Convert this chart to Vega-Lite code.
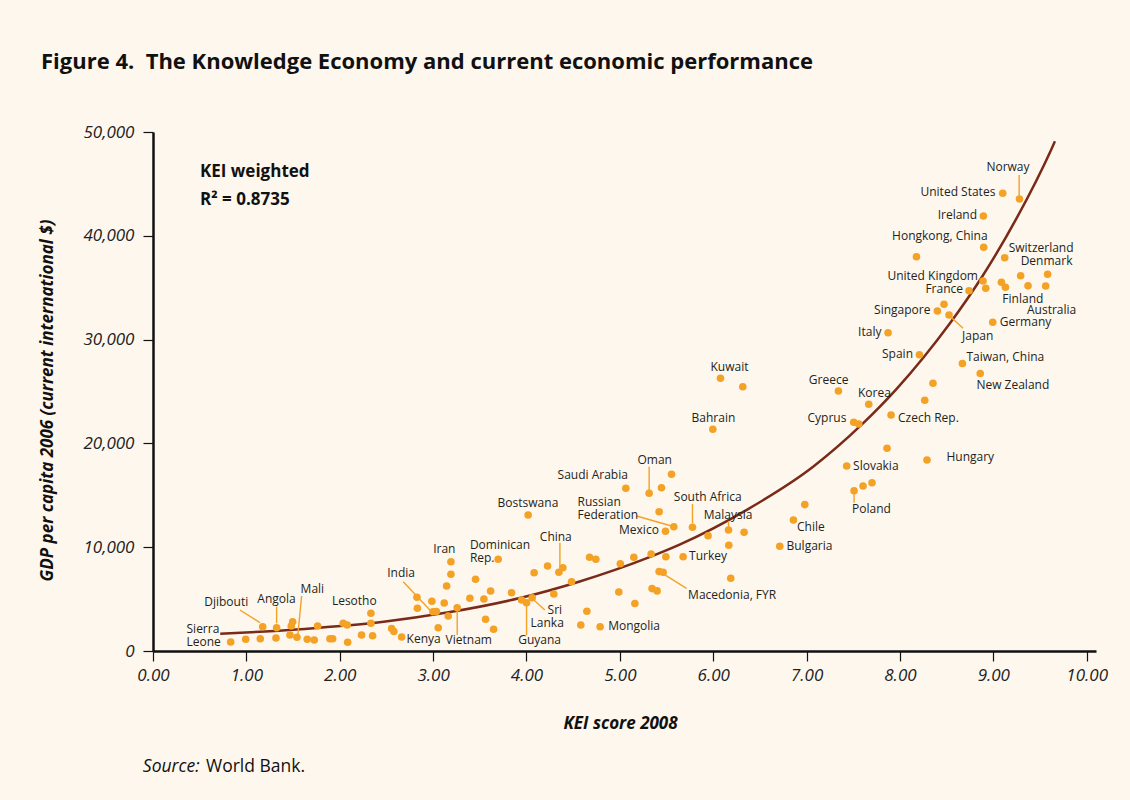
{
  "$schema": "https://vega.github.io/schema/vega-lite/v6.json",
  "width": 943,
  "height": 519,
  "autosize": "none",
  "padding": {"left": 153, "top": 132, "right": 34, "bottom": 149},
  "background": "#FEF7EE",
  "config": {"view": {"stroke": null}, "font": "Open Sans"},
  "title": {
    "text": "Figure 4.\u00a0 The Knowledge Economy and current economic performance",
    "anchor": "start",
    "frame": "group",
    "font": "Open Sans",
    "fontSize": 22,
    "fontWeight": "bold",
    "color": "#111111",
    "baseline": "alphabetic",
    "dx": -112,
    "offset": 32
  },
  "datasets": {
    "curve": [
      {"kei": 0.72, "gdp": 1650}, {"kei": 1.2, "gdp": 1880}, {"kei": 1.75, "gdp": 2220},
      {"kei": 2.47, "gdp": 2820}, {"kei": 3.15, "gdp": 3700}, {"kei": 3.93, "gdp": 5100},
      {"kei": 4.57, "gdp": 6700}, {"kei": 5.29, "gdp": 8950}, {"kei": 5.64, "gdp": 10250},
      {"kei": 6.36, "gdp": 13600}, {"kei": 7.07, "gdp": 17750}, {"kei": 7.59, "gdp": 21800},
      {"kei": 7.96, "gdp": 25200}, {"kei": 8.25, "gdp": 28250}, {"kei": 8.53, "gdp": 31500},
      {"kei": 8.89, "gdp": 36200}, {"kei": 9.25, "gdp": 41700}, {"kei": 9.62, "gdp": 48300},
      {"kei": 9.66, "gdp": 49100}
    ],
    "points": [
      {"kei": 0.832, "gdp": 867, "country": "Sierra Leone"}, {"kei": 0.993, "gdp": 1127}, {"kei": 1.149, "gdp": 1185},
      {"kei": 1.175, "gdp": 2341, "country": "Djibouti"}, {"kei": 1.324, "gdp": 2245, "country": "Angola"}, {"kei": 1.317, "gdp": 1252},
      {"kei": 1.496, "gdp": 2823}, {"kei": 1.481, "gdp": 2409}, {"kei": 1.467, "gdp": 1541},
      {"kei": 1.542, "gdp": 1320, "country": "Mali"}, {"kei": 1.652, "gdp": 1127}, {"kei": 1.727, "gdp": 1060},
      {"kei": 1.763, "gdp": 2409}, {"kei": 1.895, "gdp": 1185}, {"kei": 1.924, "gdp": 1185},
      {"kei": 2.037, "gdp": 2669}, {"kei": 2.08, "gdp": 2505}, {"kei": 2.085, "gdp": 838},
      {"kei": 2.334, "gdp": 3632, "country": "Lesotho"}, {"kei": 2.334, "gdp": 2669}, {"kei": 2.234, "gdp": 1541},
      {"kei": 2.352, "gdp": 1474}, {"kei": 2.556, "gdp": 2168}, {"kei": 2.58, "gdp": 1879},
      {"kei": 2.663, "gdp": 1349, "country": "Kenya"}, {"kei": 2.827, "gdp": 5183}, {"kei": 2.832, "gdp": 4114},
      {"kei": 2.987, "gdp": 4788}, {"kei": 3.119, "gdp": 4624}, {"kei": 2.998, "gdp": 3786, "country": "India"},
      {"kei": 3.035, "gdp": 3805}, {"kei": 3.055, "gdp": 2245}, {"kei": 3.191, "gdp": 7389},
      {"kei": 3.145, "gdp": 6262}, {"kei": 3.191, "gdp": 8603, "country": "Iran"}, {"kei": 3.162, "gdp": 3372},
      {"kei": 3.258, "gdp": 4172, "country": "Vietnam"}, {"kei": 3.697, "gdp": 8834, "country": "Dominican Rep."}, {"kei": 3.455, "gdp": 6908},
      {"kei": 3.394, "gdp": 5077}, {"kei": 3.544, "gdp": 5010}, {"kei": 3.616, "gdp": 5780},
      {"kei": 3.562, "gdp": 3054}, {"kei": 3.648, "gdp": 2091}, {"kei": 3.84, "gdp": 5617},
      {"kei": 3.948, "gdp": 4913}, {"kei": 4.001, "gdp": 4653, "country": "Guyana"}, {"kei": 4.061, "gdp": 5135, "country": "Sri Lanka"},
      {"kei": 4.293, "gdp": 5491}, {"kei": 4.082, "gdp": 7543}, {"kei": 4.226, "gdp": 8189},
      {"kei": 4.347, "gdp": 7582, "country": "China"}, {"kei": 4.39, "gdp": 8025}, {"kei": 4.483, "gdp": 6676},
      {"kei": 4.676, "gdp": 9027}, {"kei": 4.743, "gdp": 8834}, {"kei": 4.647, "gdp": 3825},
      {"kei": 4.582, "gdp": 2505}, {"kei": 4.789, "gdp": 2341, "country": "Mongolia"}, {"kei": 4.989, "gdp": 5684},
      {"kei": 5.005, "gdp": 8411}, {"kei": 5.161, "gdp": 4576}, {"kei": 5.15, "gdp": 9027},
      {"kei": 5.335, "gdp": 9345}, {"kei": 5.493, "gdp": 9085}, {"kei": 5.421, "gdp": 7649, "country": "Macedonia, FYR"},
      {"kei": 5.464, "gdp": 7582}, {"kei": 5.345, "gdp": 6012}, {"kei": 5.399, "gdp": 5790},
      {"kei": 5.489, "gdp": 11532, "country": "Mexico"}, {"kei": 5.578, "gdp": 11975, "country": "Russian Federation"}, {"kei": 4.018, "gdp": 13102, "country": "Bostswana"},
      {"kei": 5.064, "gdp": 15675, "country": "Saudi Arabia"}, {"kei": 5.314, "gdp": 15193, "country": "Oman"}, {"kei": 5.446, "gdp": 15732},
      {"kei": 5.554, "gdp": 17023}, {"kei": 5.421, "gdp": 13420}, {"kei": 5.778, "gdp": 11917, "country": "South Africa"},
      {"kei": 5.945, "gdp": 11108}, {"kei": 6.164, "gdp": 11657, "country": "Malaysia"}, {"kei": 6.331, "gdp": 11436},
      {"kei": 6.167, "gdp": 10183}, {"kei": 5.678, "gdp": 9085, "country": "Turkey"}, {"kei": 6.188, "gdp": 7004},
      {"kei": 6.981, "gdp": 14104}, {"kei": 6.859, "gdp": 12621, "country": "Chile"}, {"kei": 6.713, "gdp": 10087, "country": "Bulgaria"},
      {"kei": 6.078, "gdp": 26272, "country": "Kuwait"}, {"kei": 6.317, "gdp": 25463}, {"kei": 5.996, "gdp": 21359, "country": "Bahrain"},
      {"kei": 7.341, "gdp": 25048, "country": "Greece"}, {"kei": 7.666, "gdp": 23767, "country": "Korea"}, {"kei": 7.505, "gdp": 22033, "country": "Cyprus"},
      {"kei": 7.559, "gdp": 21869}, {"kei": 7.905, "gdp": 22736, "country": "Czech Rep."}, {"kei": 8.266, "gdp": 24152},
      {"kei": 8.354, "gdp": 25790}, {"kei": 8.669, "gdp": 27698, "country": "Taiwan, China"}, {"kei": 8.86, "gdp": 26734, "country": "New Zealand"},
      {"kei": 7.862, "gdp": 19528}, {"kei": 8.29, "gdp": 18401, "country": "Hungary"}, {"kei": 7.43, "gdp": 17823, "country": "Slovakia"},
      {"kei": 7.509, "gdp": 15443, "country": "Poland"}, {"kei": 7.605, "gdp": 15896}, {"kei": 7.701, "gdp": 16214},
      {"kei": 9.101, "gdp": 44095, "country": "United States"}, {"kei": 9.28, "gdp": 43546, "country": "Norway"}, {"kei": 8.894, "gdp": 41908, "country": "Ireland"},
      {"kei": 8.897, "gdp": 38893, "country": "Hongkong, China"}, {"kei": 8.177, "gdp": 37987}, {"kei": 9.122, "gdp": 37891, "country": "Switzerland"},
      {"kei": 9.293, "gdp": 36156}, {"kei": 9.582, "gdp": 36291, "country": "Denmark"}, {"kei": 8.89, "gdp": 35646, "country": "United Kingdom"},
      {"kei": 8.919, "gdp": 34943}, {"kei": 9.087, "gdp": 35521}, {"kei": 9.13, "gdp": 35039},
      {"kei": 9.372, "gdp": 35193, "country": "Finland"}, {"kei": 9.561, "gdp": 35164, "country": "Australia"}, {"kei": 8.74, "gdp": 34711, "country": "France"},
      {"kei": 8.472, "gdp": 33401}, {"kei": 8.401, "gdp": 32756, "country": "Singapore"}, {"kei": 8.526, "gdp": 32370, "country": "Japan"},
      {"kei": 8.994, "gdp": 31667, "country": "Germany"}, {"kei": 7.873, "gdp": 30665, "country": "Italy"}, {"kei": 8.209, "gdp": 28546, "country": "Spain"}
    ],
    "leaders": [
      {"kei": 9.277, "gdp": 45858, "kei2": 9.277, "gdp2": 43767},
      {"kei": 8.533, "gdp": 32274, "kei2": 8.676, "gdp2": 31089},
      {"kei": 7.509, "gdp": 15318, "kei2": 7.509, "gdp2": 14287},
      {"kei": 5.778, "gdp": 14162, "kei2": 5.778, "gdp2": 12303},
      {"kei": 6.164, "gdp": 12524, "kei2": 6.164, "gdp2": 11917},
      {"kei": 5.457, "gdp": 7486, "kei2": 5.714, "gdp2": 6041},
      {"kei": 5.179, "gdp": 13006, "kei2": 5.554, "gdp2": 12043},
      {"kei": 5.314, "gdp": 17755, "kei2": 5.314, "gdp2": 15511},
      {"kei": 4.358, "gdp": 10434, "kei2": 4.358, "gdp2": 7967},
      {"kei": 2.68, "gdp": 6676, "kei2": 2.966, "gdp2": 3950},
      {"kei": 3.258, "gdp": 4046, "kei2": 3.258, "gdp2": 1541},
      {"kei": 4.001, "gdp": 4528, "kei2": 4.001, "gdp2": 1541},
      {"kei": 4.079, "gdp": 4913, "kei2": 4.197, "gdp2": 3950},
      {"kei": 0.931, "gdp": 3950, "kei2": 1.146, "gdp2": 2726},
      {"kei": 1.324, "gdp": 4268, "kei2": 1.324, "gdp2": 2669},
      {"kei": 1.592, "gdp": 5299, "kei2": 1.552, "gdp2": 1638}
    ],
    "labels": [
      {"label": "Norway", "kei": 8.926, "gdp": 46272},
      {"label": "Hongkong, China", "kei": 7.916, "gdp": 39596},
      {"label": "Switzerland", "kei": 9.165, "gdp": 38469},
      {"label": "Denmark", "kei": 9.293, "gdp": 37187},
      {"label": "Finland", "kei": 9.097, "gdp": 33555},
      {"label": "Australia", "kei": 9.361, "gdp": 32495},
      {"label": "Germany", "kei": 9.069, "gdp": 31311},
      {"label": "Japan", "kei": 8.665, "gdp": 29962},
      {"label": "Taiwan, China", "kei": 8.712, "gdp": 27968},
      {"label": "New Zealand", "kei": 8.819, "gdp": 25212},
      {"label": "Kuwait", "kei": 5.971, "gdp": 27004},
      {"label": "Greece", "kei": 7.024, "gdp": 25723},
      {"label": "Korea", "kei": 7.551, "gdp": 24499},
      {"label": "Bahrain", "kei": 5.768, "gdp": 22091},
      {"label": "Czech Rep.", "kei": 7.98, "gdp": 22091},
      {"label": "Hungary", "kei": 8.498, "gdp": 18305},
      {"label": "Slovakia", "kei": 7.498, "gdp": 17438},
      {"label": "Poland", "kei": 7.487, "gdp": 13266},
      {"label": "Chile", "kei": 6.898, "gdp": 11590},
      {"label": "Bulgaria", "kei": 6.785, "gdp": 9730},
      {"label": "South Africa", "kei": 5.578, "gdp": 14480},
      {"label": "Malaysia", "kei": 5.899, "gdp": 12717},
      {"label": "Turkey", "kei": 5.742, "gdp": 8767},
      {"label": "Macedonia, FYR", "kei": 5.731, "gdp": 5010},
      {"label": "Russian\nFederation", "kei": 4.547, "gdp": 13998},
      {"label": "Oman", "kei": 5.189, "gdp": 18016},
      {"label": "Saudi Arabia", "kei": 4.333, "gdp": 16542},
      {"label": "Bostswana", "kei": 3.691, "gdp": 13902},
      {"label": "China", "kei": 4.143, "gdp": 10626},
      {"label": "Dominican\nRep.", "kei": 3.394, "gdp": 9798},
      {"label": "Iran", "kei": 3.001, "gdp": 9412},
      {"label": "India", "kei": 2.509, "gdp": 7100},
      {"label": "Kenya", "kei": 2.716, "gdp": 771},
      {"label": "Vietnam", "kei": 3.134, "gdp": 674},
      {"label": "Guyana", "kei": 3.911, "gdp": 674},
      {"label": "Sri", "kei": 4.226, "gdp": 3536},
      {"label": "Lanka", "kei": 4.044, "gdp": 2283},
      {"label": "Mongolia", "kei": 4.875, "gdp": 2023},
      {"label": "Djibouti", "kei": 0.549, "gdp": 4335},
      {"label": "Angola", "kei": 1.117, "gdp": 4595},
      {"label": "Mali", "kei": 1.581, "gdp": 5559},
      {"label": "Lesotho", "kei": 1.916, "gdp": 4432},
      {"label": "Sierra\nLeone", "kei": 0.359, "gdp": 1782}
    ],
    "labelsEndingAtPoint": [
      {"label": "United States", "kei": 9.022, "gdp": 43835},
      {"label": "Ireland", "kei": 8.826, "gdp": 41590},
      {"label": "United Kingdom", "kei": 8.836, "gdp": 35742},
      {"label": "France", "kei": 8.676, "gdp": 34461},
      {"label": "Singapore", "kei": 8.327, "gdp": 32467},
      {"label": "Italy", "kei": 7.802, "gdp": 30376},
      {"label": "Spain", "kei": 8.14, "gdp": 28199},
      {"label": "Cyprus", "kei": 7.427, "gdp": 22091},
      {"label": "Mexico", "kei": 5.418, "gdp": 11272}
    ],
    "fitNote": [
      {"label": "KEI weighted", "kei": 0.503, "gdp": 45694},
      {"label": "R² = 0.8735", "kei": 0.503, "gdp": 42968}
    ],
    "sourceLead": [{"label": "Source:", "kei": -0.109, "gdp": -11628}],
    "sourceText": [{"label": "World Bank.", "kei": 0.568, "gdp": -11628}]
  },
  "encoding": {
    "x": {
      "field": "kei",
      "type": "quantitative",
      "scale": {"domain": [0, 10.1], "nice": false, "zero": false},
      "axis": {
        "values": [0, 1, 2, 3, 4, 5, 6, 7, 8, 9, 10],
        "format": ".2f",
        "title": "KEI score 2008",
        "grid": false,
        "domainColor": "#111111",
        "domainWidth": 2.5,
        "tickColor": "#111111",
        "tickWidth": 1.2,
        "tickSize": 10,
        "labelFlush": false,
        "labelOverlap": false,
        "labelFont": "Open Sans",
        "labelFontStyle": "italic",
        "labelFontSize": 17,
        "labelColor": "#222222",
        "labelPadding": 6,
        "titleFont": "Open Sans",
        "titleFontStyle": "italic",
        "titleFontWeight": "bold",
        "titleFontSize": 17,
        "titleColor": "#111111",
        "titleX": 467,
        "titleY": 77,
        "titleAlign": "center",
        "titleBaseline": "alphabetic"
      }
    },
    "y": {
      "field": "gdp",
      "type": "quantitative",
      "scale": {"domain": [0, 50000], "nice": false},
      "axis": {
        "values": [0, 10000, 20000, 30000, 40000, 50000],
        "format": ",d",
        "title": "GDP per capita 2006 (current international $)",
        "grid": false,
        "domainColor": "#111111",
        "domainWidth": 2.5,
        "tickColor": "#111111",
        "tickWidth": 1.2,
        "tickSize": 10,
        "labelFlush": false,
        "labelOverlap": false,
        "labelFont": "Open Sans",
        "labelFontStyle": "italic",
        "labelFontSize": 17,
        "labelColor": "#222222",
        "labelPadding": 9,
        "titleFont": "Open Sans",
        "titleFontStyle": "italic",
        "titleFontWeight": "bold",
        "titleFontSize": 17,
        "titleColor": "#111111",
        "titleX": -106,
        "titleY": 268,
        "titleAngle": 270,
        "titleAlign": "center",
        "titleBaseline": "middle"
      }
    }
  },
  "layer": [
    {
      "data": {"name": "curve"},
      "mark": {"type": "line", "color": "#7A2A18", "strokeWidth": 2.5, "interpolate": "monotone"}
    },
    {
      "data": {"name": "leaders"},
      "mark": {"type": "rule", "color": "#F2A227", "strokeWidth": 1.4},
      "encoding": {"x2": {"field": "kei2"}, "y2": {"field": "gdp2"}}
    },
    {
      "data": {"name": "points"},
      "mark": {"type": "circle", "size": 58, "color": "#F3A226", "opacity": 1}
    },
    {
      "data": {"name": "labels"},
      "mark": {"type": "text", "align": "left", "baseline": "alphabetic", "font": "Open Sans", "fontSize": 12, "color": "#231F20", "lineBreak": "\n", "lineHeight": 13},
      "encoding": {"text": {"field": "label"}}
    },
    {
      "data": {"name": "labelsEndingAtPoint"},
      "mark": {"type": "text", "align": "right", "baseline": "alphabetic", "font": "Open Sans", "fontSize": 12, "color": "#231F20"},
      "encoding": {"text": {"field": "label"}}
    },
    {
      "data": {"name": "fitNote"},
      "mark": {"type": "text", "align": "left", "baseline": "alphabetic", "font": "Open Sans", "fontSize": 17, "fontWeight": "bold", "color": "#111111"},
      "encoding": {"text": {"field": "label"}}
    },
    {
      "data": {"name": "sourceLead"},
      "mark": {"type": "text", "align": "left", "baseline": "alphabetic", "font": "Open Sans", "fontSize": 17.5, "fontStyle": "italic", "color": "#111111"},
      "encoding": {"text": {"field": "label"}}
    },
    {
      "data": {"name": "sourceText"},
      "mark": {"type": "text", "align": "left", "baseline": "alphabetic", "font": "Open Sans", "fontSize": 17.5, "color": "#111111"},
      "encoding": {"text": {"field": "label"}}
    }
  ]
}
